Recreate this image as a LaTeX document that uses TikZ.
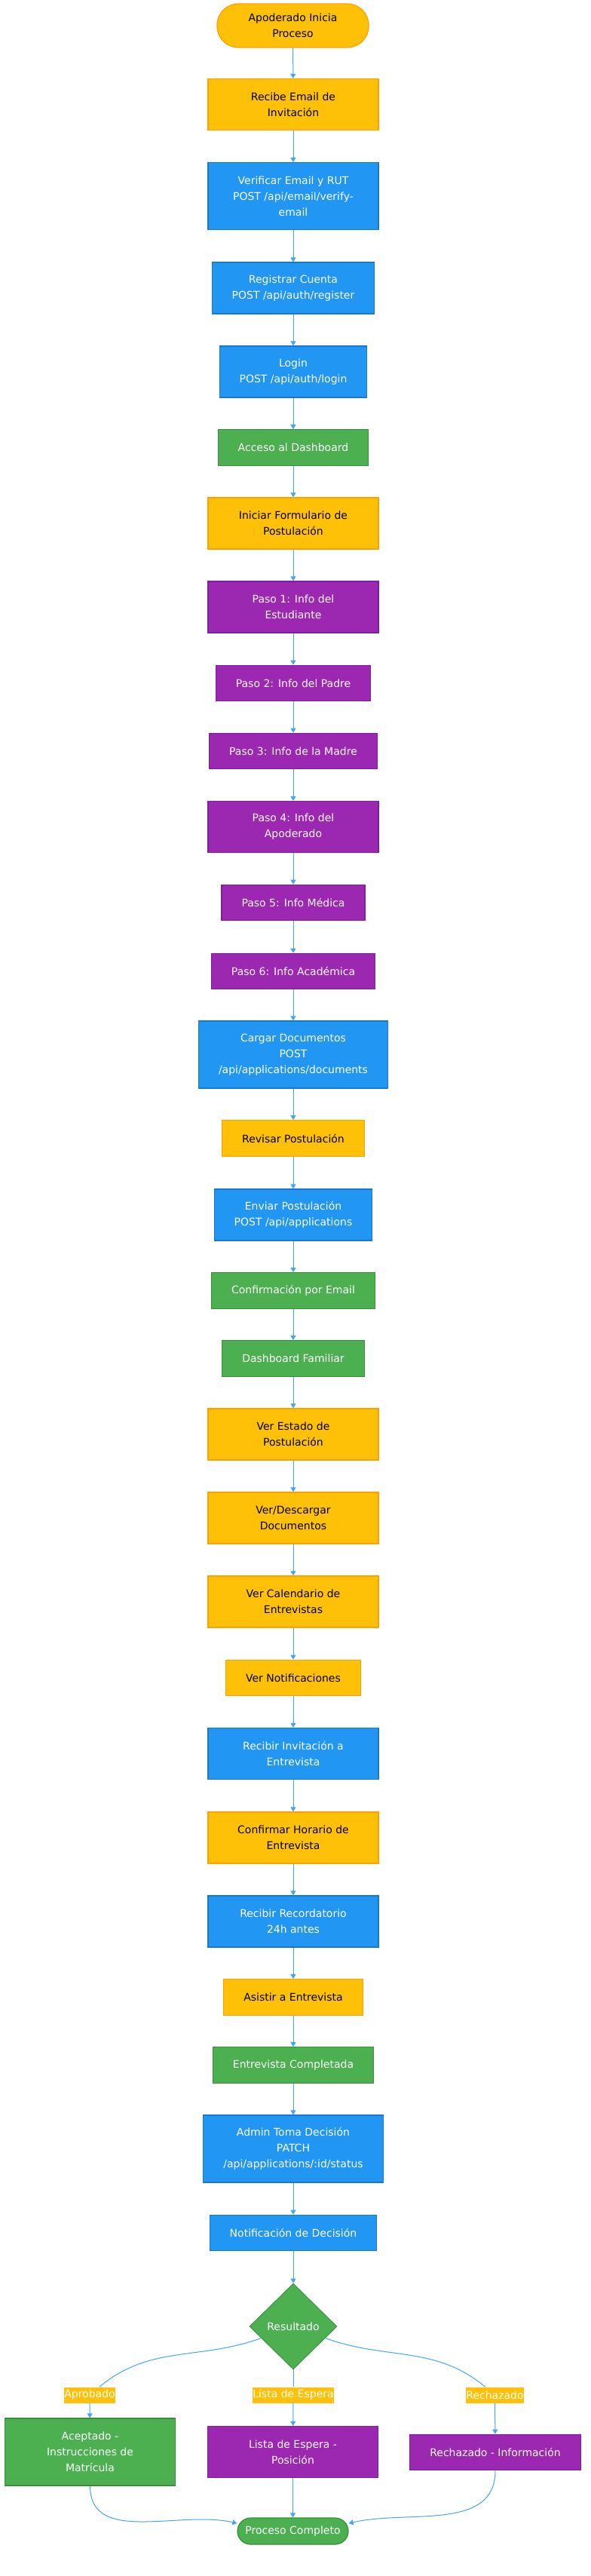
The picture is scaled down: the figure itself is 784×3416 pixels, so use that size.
\documentclass[tikz,border=0pt]{standalone}
\usepackage{fontspec}
\setmainfont{DejaVu Sans}
\usetikzlibrary{arrows.meta,shapes.geometric}

\definecolor{amber}{HTML}{FFC107}
\definecolor{amberdk}{HTML}{FFA000}
\definecolor{azul}{HTML}{2196F3}
\definecolor{azuldk}{HTML}{1976D2}
\definecolor{verde}{HTML}{4CAF50}
\definecolor{verdedk}{HTML}{388E3C}
\definecolor{morado}{HTML}{9C27B0}
\definecolor{moradodk}{HTML}{7B1FA2}
\definecolor{flecha}{HTML}{42A5F5}

\tikzset{box/.style={rectangle, draw, line width=1.2pt, align=center,
                     inner xsep=26.5pt, inner ysep=13pt, font=\fontsize{14}{21}\selectfont},
         usr/.style={box, fill=amber, draw=amberdk, text=black},
         api/.style={box, fill=azul, draw=azuldk, text=white},
         okbox/.style={box, fill=verde, draw=verdedk, text=white},
         formbox/.style={box, fill=morado, draw=moradodk, text=white},
         h1/.style={minimum height=47.5pt},
         h2/.style={minimum height=68pt},
         h3/.style={minimum height=89pt},
         wrapbox/.style={minimum width=226pt},
         flow/.style={draw=flecha, line width=1pt, -{Triangle[length=6pt,width=7pt]}},
         link/.style={draw=flecha, line width=1pt},
         lbl/.style={fill=amber, text=white, inner sep=0pt, minimum height=21pt,
                     font=\fontsize{14}{21}\selectfont}}

\begin{document}
\begin{tikzpicture}[x=1pt,y=-1pt]

\useasboundingbox (0,0) rectangle (784,3416);

% Registro y acceso
\node[usr, rounded corners=28pt, minimum width=201pt, minimum height=56pt] (inicio) at (388.5,34) {Apoderado Inicia\\Proceso};
\node[usr, h2, wrapbox] (recibe) at (389,138.5) {Recibe Email de\\Invitación};
\node[api, h3, wrapbox] (verif) at (389,260) {Verificar Email y RUT\\POST /api/email/verify-\\email};
\node[api, h2] (regis) at (389,382) {Registrar Cuenta\\POST /api/auth/register};
\node[api, h2] (login) at (389,493) {Login\\POST /api/auth/login};
\node[okbox, h1] (acceso) at (389,593.5) {Acceso al Dashboard};

% Formulario
\node[usr, h2, wrapbox] (iniciar) at (389,694) {Iniciar Formulario de\\Postulación};
\node[formbox, h2, wrapbox] (paso1) at (389,805) {Paso 1: Info del\\Estudiante};
\node[formbox, h1] (paso2) at (389,906) {Paso 2: Info del Padre};
\node[formbox, h1] (paso3) at (389,996) {Paso 3: Info de la Madre};
\node[formbox, h2, wrapbox] (paso4) at (389,1096.5) {Paso 4: Info del\\Apoderado};
\node[formbox, h1] (paso5) at (389,1197) {Paso 5: Info Médica};
\node[formbox, h1] (paso6) at (389,1288) {Paso 6: Info Académica};
\node[api, h3] (cargar) at (389,1398.5) {Cargar Documentos\\POST\\/api/applications/documents};
\node[usr, h1] (revisar) at (389,1509.5) {Revisar Postulación};
\node[api, h2] (enviar) at (389,1611) {Enviar Postulación\\POST /api/applications};
\node[okbox, h1] (confirm) at (389,1711.5) {Confirmación por Email};

% Seguimiento
\node[okbox, h1] (dashfam) at (389,1801.5) {Dashboard Familiar};
\node[usr, h2, wrapbox] (estado) at (389,1902) {Ver Estado de\\Postulación};
\node[usr, h2, wrapbox] (descarga) at (389,2013) {Ver/Descargar\\Documentos};
\node[usr, h2, wrapbox] (calend) at (389,2124) {Ver Calendario de\\Entrevistas};
\node[usr, h1] (notif) at (389,2225) {Ver Notificaciones};

% Entrevista
\node[api, h2, wrapbox] (invit) at (389,2325.5) {Recibir Invitación a\\Entrevista};
\node[usr, h2, wrapbox] (horario) at (389,2437) {Confirmar Horario de\\Entrevista};
\node[api, h2, wrapbox] (record) at (389,2548) {Recibir Recordatorio\\24h antes};
\node[usr, h1] (asistir) at (389,2648.5) {Asistir a Entrevista};
\node[okbox, h1] (complet) at (389,2738.5) {Entrevista Completada};

% Decision
\node[api, h3] (admin) at (389,2849.5) {Admin Toma Decisión\\PATCH\\/api/applications/:id/status};
\node[api, h1] (notdec) at (389,2961) {Notificación de Decisión};
\node[diamond, fill=verde, draw=verdedk, line width=0.8pt, text=white, inner sep=0pt,
      minimum width=116pt, minimum height=114pt, font=\fontsize{14}{21}\selectfont] (res) at (389,3085) {Resultado};

% Resultados
\node[okbox, h3, wrapbox] (acep) at (119.5,3251.5) {Aceptado -\\Instrucciones de\\Matrícula};
\node[formbox, h2, wrapbox] (lista) at (388.5,3251.5) {Lista de Espera -\\Posición};
\node[formbox, h1, wrapbox] (rech) at (657,3252) {Rechazado - Información};
\node[okbox, rounded corners=17.5pt, inner xsep=10pt, inner ysep=5pt, minimum width=147pt,
      minimum height=35pt] (fin) at (388.5,3356.5) {Proceso Completo};

% Edge labels
\node[lbl] (lbAp) at (119,3176) {Aprobado};
\node[lbl] (lbLista) at (389,3176) {Lista de Espera};
\node[lbl] (lbRech) at (656.5,3176) {Rechazado};

% Edges
\draw[flow] (inicio) -- (recibe);
\draw[flow] (recibe) -- (verif);
\draw[flow] (verif) -- (regis);
\draw[flow] (regis) -- (login);
\draw[flow] (login) -- (acceso);
\draw[flow] (acceso) -- (iniciar);
\draw[flow] (iniciar) -- (paso1);
\draw[flow] (paso1) -- (paso2);
\draw[flow] (paso2) -- (paso3);
\draw[flow] (paso3) -- (paso4);
\draw[flow] (paso4) -- (paso5);
\draw[flow] (paso5) -- (paso6);
\draw[flow] (paso6) -- (cargar);
\draw[flow] (cargar) -- (revisar);
\draw[flow] (revisar) -- (enviar);
\draw[flow] (enviar) -- (confirm);
\draw[flow] (confirm) -- (dashfam);
\draw[flow] (dashfam) -- (estado);
\draw[flow] (estado) -- (descarga);
\draw[flow] (descarga) -- (calend);
\draw[flow] (calend) -- (notif);
\draw[flow] (notif) -- (invit);
\draw[flow] (invit) -- (horario);
\draw[flow] (horario) -- (record);
\draw[flow] (record) -- (asistir);
\draw[flow] (asistir) -- (complet);
\draw[flow] (complet) -- (admin);
\draw[flow] (admin) -- (notdec);
\draw[flow] (notdec) -- (res);

\draw[link] (res.200) to[out=200,in=40] (lbAp);
\draw[flow] (lbAp) -- (acep);
\draw[link] (res) -- (lbLista);
\draw[flow] (lbLista) -- (lista);
\draw[link] (res.340) to[out=-20,in=140] (lbRech);
\draw[flow] (lbRech) -- (rech);

\draw[flow] (acep.south) to[out=-90,in=167] (fin.172);
\draw[flow] (lista) -- (fin);
\draw[flow] (rech.south) to[out=-90,in=13] (fin.8);

\end{tikzpicture}
\end{document}
